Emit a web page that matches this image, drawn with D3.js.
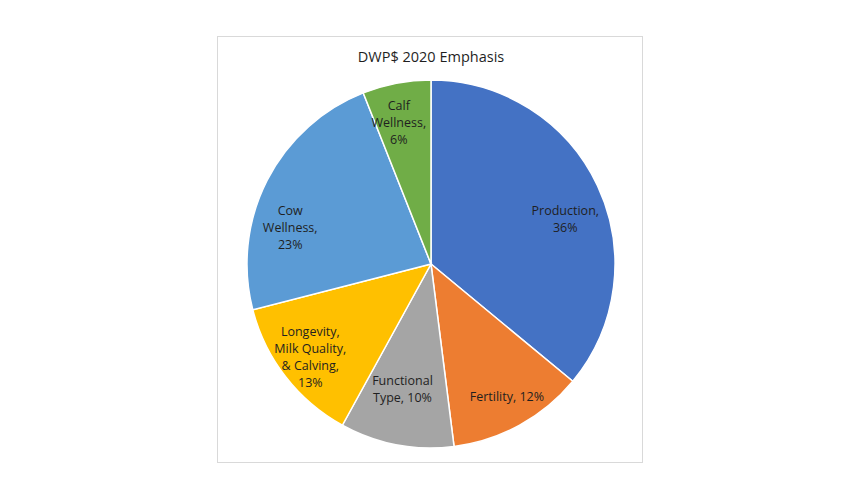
<!DOCTYPE html>
<html>
<head>
<meta charset="utf-8">
<script src="https://cdn.jsdelivr.net/npm/d3@7"></script>
<style>
  body { margin: 0; background: #fff; }
  text { font-family: "Open Sans", "Liberation Sans", sans-serif; fill: #1f1f1f; }
</style>
</head>
<body>
<div id="chart"></div>
<script>
// data
const categories = ["Production", "Fertility", "Functional Type", "Longevity, Milk Quality, & Calving", "Cow Wellness", "Calf Wellness"];
const values = [36, 12, 10, 13, 23, 6];
const labelLines = [
  ["Production,", "36%"],
  ["Fertility, 12%"],
  ["Functional", "Type, 10%"],
  ["Longevity,", "Milk Quality,", "& Calving,", "13%"],
  ["Cow", "Wellness,", "23%"],
  ["Calf", "Wellness,", "6%"]
];
const colors = ["#4472C4", "#ED7D31", "#A5A5A5", "#FFC000", "#5B9BD5", "#70AD47"];

/** CONSTANTS */
const width = 864, height = 504;
const cx = 431, cy = 264, radius = 184;
const lineH = 17;
// "best fit" label placement: angle shift (deg) and radius fraction per slice
const labelFit = [[6.6, 0.77], [-1, 0.83], [2, 0.70], [0, 0.83], [-12.6, 0.79], [-2, 0.79]];

const svg = d3.select("#chart")
  .append("svg")
  .attr("width", width)
  .attr("height", height);

// chart frame
svg.append("rect")
  .attr("x", 217.5).attr("y", 36.5)
  .attr("width", 425).attr("height", 426)
  .attr("fill", "#fff")
  .attr("stroke", "#d9d9d9");

svg.append("text")
  .attr("x", cx).attr("y", 62)
  .attr("text-anchor", "middle")
  .attr("font-size", 14.5)
  .text("DWP$ 2020 Emphasis");

const data = categories.map((c, i) => ({ name: c, value: values[i], lines: labelLines[i] }));

const pie = d3.pie().sort(null).value(d => d.value);
const arcs = pie(data);

const arc = d3.arc().innerRadius(0).outerRadius(radius);

const labelPos = (d, i) => {
  const a = (d.startAngle + d.endAngle) / 2 + labelFit[i][0] * Math.PI / 180;
  const r = radius * labelFit[i][1];
  return [r * Math.sin(a), -r * Math.cos(a)];
};

const g = svg.append("g").attr("transform", `translate(${cx},${cy})`);

g.selectAll("path")
  .data(arcs)
  .join("path")
  .attr("d", arc)
  .attr("fill", (d, i) => colors[i])
  .attr("stroke", "#fff")
  .attr("stroke-width", 1.5);

const labels = g.selectAll("text.lbl")
  .data(arcs)
  .join("text")
  .attr("class", "lbl")
  .attr("text-anchor", "middle")
  .attr("font-size", 12.5)
  .attr("transform", (d, i) => `translate(${labelPos(d, i)})`);

labels.selectAll("tspan")
  .data(d => d.data.lines.map((l, i, a) => ({ l, i, n: a.length })))
  .join("tspan")
  .attr("x", 0)
  .attr("y", d => (d.i - (d.n - 1) / 2) * lineH)
  .attr("dy", "0.35em")
  .text(d => d.l);
</script>
</body>
</html>
